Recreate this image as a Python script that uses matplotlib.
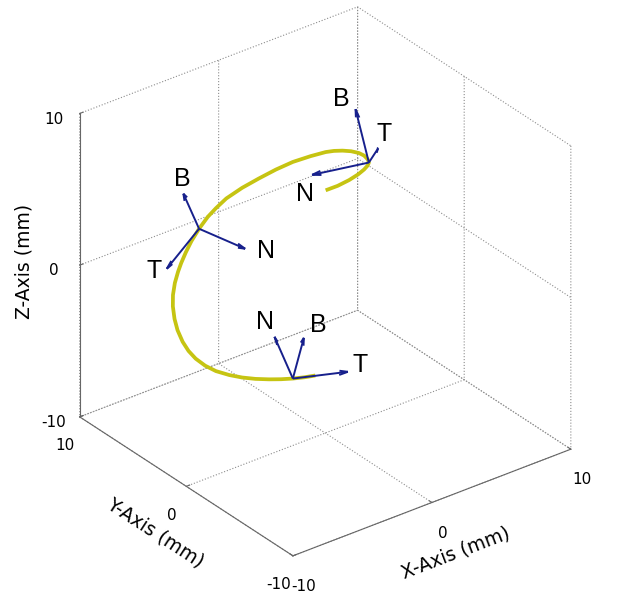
import matplotlib.pyplot as plt
import numpy as np
from mpl_toolkits.mplot3d import proj3d

plt.rcParams['axes.unicode_minus'] = False

# curve: angle round its axis (deg) and height (mm)
curve_theta = [-93.5, -84.5, -74.5, -64.5, -55.5, -46.5, -37.5, -28.5, -19.5, -11.5, -2.5,
               5.5, 12.5, 18.5, 28.5, 39.5, 49.5, 59.5, 69.5, 79.5, 86.5, 92.5, 99.5,
               106.5, 112.5, 118.5, 123.5, 130.5, 138.5, 145.5, 153.5, 160.5, 168.5,
               175.5, 182.5, 190.5, 198.5, 207.5, 215.5, 223.5, 231.5, 238.5, 245.5,
               252.5, 259.5]
curve_z = [8.24, 8.22, 8.18, 8.08, 7.93, 7.70, 7.39, 7.10, 6.85, 6.60, 6.28,
           5.97, 5.68, 5.40, 4.86, 4.28, 3.70, 3.13, 2.63, 2.14, 1.70, 1.33, 0.82,
           0.31, -0.14, -0.55, -0.86, -1.22, -1.57, -1.92, -2.30, -2.66, -3.01,
           -3.27, -3.46, -3.60, -3.68, -3.69, -3.69, -3.68, -3.67, -3.68, -3.70,
           -3.73, -3.77]
axis_x, axis_y, radius = -2.0, 2.5, 5.6

# Frenet frames at three points of the curve
frame_theta = [-37.5, 99.5, 245.5]
frame_z = [7.39, 0.82, -3.70]
T_vecs = [(0.705, 0.657, -0.266), (-0.896, -0.259, -0.358), (0.946, -0.315, -0.055)]
N_vecs = [(-0.783, 0.578, -0.233), (0.254, -0.966, -0.043), (0.297, 0.904, 0.307)]
B_vecs = [(-0.061, 0.296, 0.942), (-0.428, -0.116, 0.897), (-0.002, -0.312, 0.949)]
vec_len = 3.33
names = ['T', 'N', 'B']
ticks = [-10, 0, 10]

# label offsets from arrow tips, in pixels (right, down)
label_off = [
    [(6, -14), (-7, 19), (-14, -10)],
    [(-13, 2), (21, 2), (-1, -15)],
    [(12, -7), (-10, -15), (14, -13)],
]

W, H = 620, 591
fig = plt.figure(figsize=(W / 100, H / 100), dpi=100)
ax = fig.add_axes([0.1, 0.1, 0.8, 0.8], projection='3d', proj_type='ortho')
ax.computed_zorder = False
ax.view_init(elev=30, azim=-127.5)
ax.set_box_aspect((1, 1, 1))
ax.set_xlim(-10, 10)
ax.set_ylim(-10, 10)
ax.set_zlim(-10, 10)

th = np.deg2rad(curve_theta)
cx = axis_x + radius * np.cos(th)
cy = axis_y + radius * np.sin(th)
ax.plot(cx, cy, curve_z, color='#c6c412', lw=2.7, zorder=2,
        solid_capstyle='butt', solid_joinstyle='round')

fth = np.deg2rad(frame_theta)
fx = axis_x + radius * np.cos(fth)
fy = axis_y + radius * np.sin(fth)
fz = np.array(frame_z)
for vecs in (T_vecs, N_vecs, B_vecs):
    v = np.array(vecs)
    ax.quiver(fx, fy, fz, v[:, 0], v[:, 1], v[:, 2], length=vec_len,
              arrow_length_ratio=0.16, color='#17208c', lw=1.4, zorder=3)

for axis, lab in ((ax.xaxis, 'X-Axis (mm)'), (ax.yaxis, 'Y-Axis (mm)'), (ax.zaxis, 'Z-Axis (mm)')):
    axis.set_ticks(ticks)
    axis.set_pane_color((1, 1, 1, 0))
    axis._axinfo['grid'].update({'color': (0.55, 0.55, 0.55, 1), 'linestyle': ':', 'linewidth': 0.8})
    axis._axinfo['tick']['inward_factor'] = 0.0
    axis._axinfo['tick']['outward_factor'] = 0.15
    axis._axinfo['axisline']['color'] = (0.4, 0.4, 0.4, 1)
    axis.line.set_color('0.4')
    axis.line.set_linewidth(0.8)
    axis.set_tick_params(color='0.4', labelcolor='black', labelsize=11)
    axis.set_label_text(lab, fontsize=13.5)
ax.grid(True)

# fit the box onto the frame of the picture
fig.canvas.draw()


def to_px(p):
    X, Y, _ = proj3d.proj_transform(p[0], p[1], p[2], ax.get_proj())
    return ax.transData.transform((X, Y))


corners = [(-10, 10, 10), (-10, -10, -10), (10, -10, 10), (10, 10, 10)]
target = np.array([(79, 113), (293, 555), (571, 147), (358, 7)], float)
target[:, 1] = H - target[:, 1]
cur = np.array([to_px(c) for c in corners])
k = ((target[2, 0] - target[0, 0]) / (cur[2, 0] - cur[0, 0])
     + (target[3, 1] - target[1, 1]) / (cur[3, 1] - cur[1, 1])) / 2
pos = ax.get_position()
ll = np.array([pos.x0 * W, pos.y0 * H])
size = np.array([pos.width * W, pos.height * H])
new_ll = target.mean(0) - k * (cur.mean(0) - ll)
new_size = k * size
ax.set_position([new_ll[0] / W, new_ll[1] / H, new_size[0] / W, new_size[1] / H])
fig.canvas.draw()

for i in range(3):
    o = np.array([fx[i], fy[i], fz[i]])
    for j, vecs in enumerate((T_vecs, N_vecs, B_vecs)):
        tip = to_px(o + vec_len * np.array(vecs[i]))
        dx, dy = label_off[i][j]
        fig.text((tip[0] + dx) / W, (tip[1] - dy) / H, names[j], ha='center', va='center',
                 fontsize=18, family='Liberation Sans')

fig.savefig('out.png', dpi=100)
